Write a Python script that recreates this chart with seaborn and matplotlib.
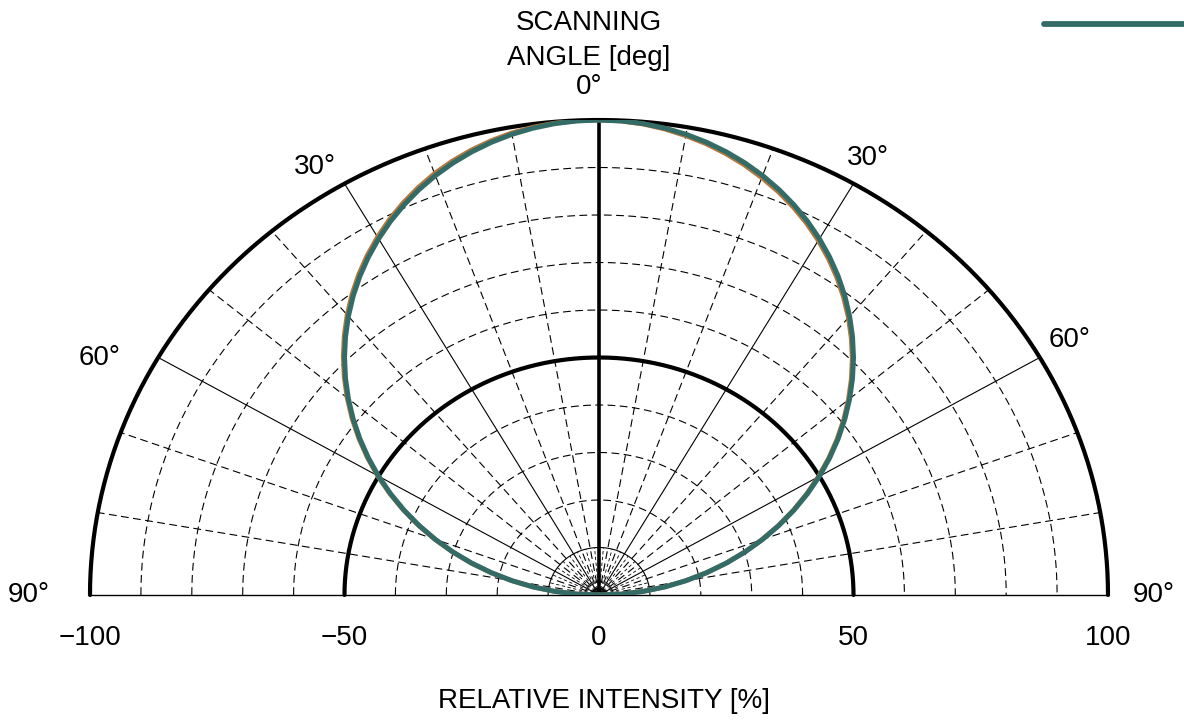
import matplotlib
matplotlib.use("Agg")
import matplotlib.pyplot as plt
import numpy as np
import pandas as pd
import seaborn as sns

# emission angle [deg] and relative intensity [%]
ANGLES = np.arange(-90, 90.1, 2.5)
INTENSITY_A = [0.0, 4.38, 8.76, 13.12, 17.45, 21.75, 26.01, 30.22, 34.37,
               38.46, 42.47, 46.40, 50.25, 54.00, 57.65, 61.18, 64.60, 67.90,
               71.06, 74.09, 76.98, 79.74, 82.33, 84.76, 87.03, 89.14, 91.08,
               92.85, 94.44, 95.80, 96.98, 97.97, 98.78, 99.34, 99.72, 99.92,
               100.0,
               99.88, 99.52, 98.94, 98.18, 97.29, 96.20, 94.94, 93.50, 91.93,
               90.18, 88.26, 86.17, 83.92, 81.51, 78.94, 76.22, 73.35, 70.36,
               67.22, 63.96, 60.58, 57.07, 53.46, 49.75, 45.94, 42.05, 38.08,
               34.03, 29.92, 25.75, 21.53, 17.27, 12.98, 8.68, 4.34, 0.0]
INTENSITY_B = [0.0, 4.36, 8.72, 13.05, 17.36, 21.64, 25.88, 30.07, 34.20,
               38.27, 42.26, 46.17, 50.00, 53.73, 57.36, 60.88, 64.28, 67.56,
               70.71, 73.72, 76.60, 79.34, 81.92, 84.34, 86.60, 88.70, 90.63,
               92.39, 93.97, 95.37, 96.59, 97.63, 98.48, 99.14, 99.62, 99.90,
               100.0,
               99.90, 99.62, 99.14, 98.48, 97.63, 96.59, 95.37, 93.97, 92.39,
               90.63, 88.70, 86.60, 84.34, 81.92, 79.34, 76.60, 73.72, 70.71,
               67.56, 64.28, 60.88, 57.36, 53.73, 50.00, 46.17, 42.26, 38.27,
               34.20, 30.07, 25.88, 21.64, 17.36, 13.05, 8.72, 4.36, 0.0]
SERIES = ["A", "B"]
COLORS = {"A": "#b5773d", "B": "#336b66"}

X_TICKS = [-100, -50, 0, 50, 100]
ANGLE_LABELS = ["0°", "30°", "30°", "60°", "60°", "90°", "90°"]
ANGLE_LABEL_POS = [(-2, 107), (-55.8, 90.1), (52.8, 92), (-98.2, 49.9),
                   (92.5, 53.7), (-112, 0), (109, 0)]

sns.set_style("white")
plt.rcParams["font.family"] = ["Liberation Sans", "DejaVu Sans"]
plt.rcParams["text.color"] = "black"
plt.rcParams["axes.labelcolor"] = "black"
plt.rcParams["xtick.color"] = "black"
FS = 20

rows = []
for name, vals in zip(SERIES, [INTENSITY_A, INTENSITY_B]):
    for a, v in zip(ANGLES, vals):
        t = np.deg2rad(a)
        rows.append({"series": name, "x": v * np.sin(t), "y": v * np.cos(t)})
df = pd.DataFrame(rows)

fig = plt.figure(figsize=(11.84, 7.2), dpi=100)
ax = fig.add_axes([90 / 1184, 1 - 595 / 720, 1018 / 1184, 475 / 720])

# polar grid
th = np.linspace(-np.pi / 2, np.pi / 2, 400)
for r in range(10, 101, 10):
    if r in (50, 100):
        kw = dict(color="black", lw=3.0, ls="-")
    elif r == 10:
        kw = dict(color="black", lw=0.8, ls="-")
    else:
        kw = dict(color="black", lw=0.8, ls=(0, (7, 4)))
    ax.plot(r * np.sin(th), r * np.cos(th), clip_on=False, zorder=1, **kw)

for a in range(-80, 81, 10):
    t = np.deg2rad(a)
    if a == 0:
        kw = dict(color="black", lw=2.6, ls="-")
    elif abs(a) in (30, 60):
        kw = dict(color="black", lw=0.8, ls="-")
    else:
        kw = dict(color="black", lw=0.8, ls=(0, (7, 4)))
    ax.plot([0, 100 * np.sin(t)], [0, 100 * np.cos(t)], zorder=1, **kw)

# fine rays near the origin
for a in range(-85, 86, 5):
    if a % 10 == 0:
        continue
    t = np.deg2rad(a)
    ax.plot([0, 10 * np.sin(t)], [0, 10 * np.cos(t)], color="black", lw=0.6,
            ls=(0, (4, 3)), zorder=1)

sns.lineplot(data=df[df["series"] == "A"], x="x", y="y", sort=False,
             estimator=None, color=COLORS["A"], lw=3.4, ax=ax, zorder=3,
             legend=False)
sns.lineplot(data=df[df["series"] == "B"], x="x", y="y", sort=False,
             estimator=None, color=COLORS["B"], lw=3.6, ax=ax, zorder=4,
             label=" ")

ax.set_xlim(-100, 100)
ax.set_ylim(0, 100)
for s in ["top", "left", "right"]:
    ax.spines[s].set_visible(False)
ax.spines["bottom"].set_linewidth(1.0)
ax.spines["bottom"].set_color("black")
ax.spines["bottom"].set_zorder(2)
ax.set_yticks([])
ax.set_xticks(X_TICKS)
ax.set_xticklabels([f"{t}".replace("-", "\u2212") for t in X_TICKS])
ax.set_xticks(np.arange(-100, 101, 10), minor=True)
ax.tick_params(axis="x", which="both", direction="inout", length=11,
               width=0.9, labelsize=FS, pad=16, colors="black")
ax.set_xlabel("RELATIVE INTENSITY [%]", fontsize=FS, va="center")
ax.xaxis.set_label_coords(0.505, -0.223)
ax.set_ylabel("")

for lab, (x, y) in zip(ANGLE_LABELS, ANGLE_LABEL_POS):
    ax.text(x, y, lab, ha="center", va="center", fontsize=FS, clip_on=False)

ax.text(-2, 120.4, "SCANNING", ha="center", va="center", fontsize=FS,
        clip_on=False)
ax.text(-2, 113.1, "ANGLE [deg]", ha="center", va="center", fontsize=FS,
        clip_on=False)

ax.legend(loc="upper left", bbox_to_anchor=(1025 / 1184, 1.008),
          bbox_transform=fig.transFigure, frameon=False, handlelength=5.5,
          fontsize=FS, borderaxespad=0.3)
for line in ax.get_legend().get_lines():
    line.set_linewidth(4.2)

fig.savefig("out.png", dpi=100, facecolor="white")
